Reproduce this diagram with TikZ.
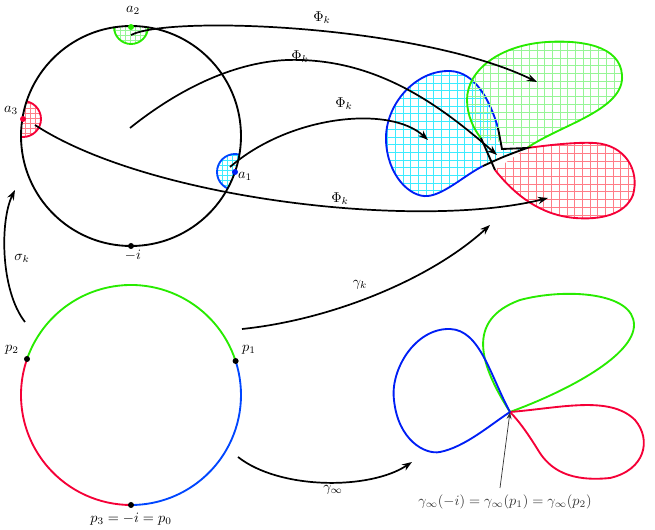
\documentclass[tikz,border=0pt]{standalone}
\usetikzlibrary{arrows.meta,calc}
\definecolor{mygreen}{RGB}{40,235,0}
\definecolor{myred}{RGB}{245,0,55}
\definecolor{myblue}{RGB}{0,30,245}
\definecolor{myblueb}{RGB}{0,70,255}
\definecolor{gridgreen}{RGB}{150,245,150}
\definecolor{gridcyan}{RGB}{60,235,255}
\definecolor{gridred}{RGB}{255,125,135}
\newcommand\mkgrid[6]{%
  \pgfmathsetmacro\mygridxb{#3+#2}%
  \foreach \gx in {#3,\mygridxb,...,#4} \draw[gridline,#1] (\gx,#5) -- (\gx,#6);
  \pgfmathsetmacro\mygridyb{#5+#2}%
  \foreach \gy in {#5,\mygridyb,...,#6} \draw[gridline,#1] (#3,\gy) -- (#4,\gy);}
\tikzset{
  thickline/.style={line width=1.3pt},
  arr/.style={line width=1.2pt,-{Stealth[length=7pt,width=5pt]}},
  thinarr/.style={line width=0.5pt,black!80,-{Stealth[length=5pt,width=3.5pt]}},
  gridline/.style={line width=0.6pt},
  dot/.style={circle,fill,inner sep=0pt,minimum size=4.2pt},
  lab/.style={inner sep=1pt},
}
\begin{document}
\begin{tikzpicture}[x=0.7pt,y=-0.7pt]
\useasboundingbox (0,0) rectangle (655,530);

% ---------- top circle with half disks ----------
\begin{scope}
  \clip (131,136) circle (110);
  \begin{scope}\clip (131,27) circle (17); \mkgrid{gridgreen}{5}{110}{155}{5}{50}\end{scope}
  \begin{scope}\clip (23,119) circle (18); \mkgrid{gridred}{5}{0}{45}{98}{140}\end{scope}
  \begin{scope}\clip (235,172) circle (18); \mkgrid{gridcyan}{5}{212}{258}{150}{195}\end{scope}
  \draw[thickline,mygreen] (131,27) circle (17);
  \draw[thickline,myred] (23,119) circle (18);
  \draw[thickline,myblueb] (235,172) circle (18);
\end{scope}
\node[draw,thickline,circle,minimum size=220*0.7pt,inner sep=0pt] (C1) at (131,136) {};
\node[dot,mygreen] (a2) at (131,27) {};
\node[dot,myred] (a3) at (23,119) {};
\node[dot,myblue] (a1) at (235,172) {};
\node[dot] (mi) at (131,246) {};
\node[lab] (la2) at (133,10) {$a_2$};
\node[lab] (la3) at (11,110) {$a_3$};
\node[lab] (la1) at (245,176) {$a_1$};
\node[lab] (lmi) at (133,255) {$-i$};

% ---------- top right blobs ----------
\coordinate (P) at (527,148);
\coordinate (Q) at (502,149);
\coordinate (R) at (498,128);
\coordinate (B1) at (483,166);
\coordinate (G1) at (481,138);
\coordinate (R1) at (495,170);
\begin{scope}
  \clip (R) .. controls (490,100) and (475,72) .. (450,71)
        .. controls (415,70) and (385,105) .. (386,140)
        .. controls (387,175) and (410,198) .. (428,196)
        .. controls (445,194) and (465,175) .. (B1)
        .. controls (505,156) .. (P) -- (Q) -- cycle;
  \mkgrid{gridcyan}{7.7}{380}{540}{60}{200}
\end{scope}
\draw[thickline,myblue] (R) .. controls (490,100) and (475,72) .. (450,71)
        .. controls (415,70) and (385,105) .. (386,140)
        .. controls (387,175) and (410,198) .. (428,196)
        .. controls (445,194) and (465,175) .. (B1);
\begin{scope}
  \clip (P) .. controls (560,125) and (625,110) .. (622,75)
        .. controls (620,45) and (580,40) .. (547,42)
        .. controls (500,45) and (467,70) .. (467,100)
        .. controls (467,115) and (474,130) .. (G1) -- cycle;
  \mkgrid{gridgreen}{7.7}{460}{630}{35}{155}
\end{scope}
\draw[thickline,mygreen] (P) .. controls (560,125) and (625,110) .. (622,75)
        .. controls (620,45) and (580,40) .. (547,42)
        .. controls (500,45) and (467,70) .. (467,100)
        .. controls (467,115) and (474,130) .. (G1);
\begin{scope}
  \clip (P) .. controls (550,145) and (575,142) .. (595,143)
        .. controls (625,145) and (640,170) .. (633,195)
        .. controls (625,215) and (600,220) .. (575,218)
        .. controls (540,215) and (515,195) .. (R1) -- cycle;
  \mkgrid{gridred}{7.7}{490}{640}{138}{225}
\end{scope}
\draw[thickline,myred] (P) .. controls (550,145) and (575,142) .. (595,143)
        .. controls (625,145) and (640,170) .. (633,195)
        .. controls (625,215) and (600,220) .. (575,218)
        .. controls (540,215) and (515,195) .. (R1);
\draw[thickline] (B1) .. controls (505,156) .. (P) -- (Q) -- (R);
\draw[thickline] (G1) -- (R1);

% ---------- Phi arrows ----------
\coordinate (s1) at (131,35);  \coordinate (e1) at (537,82);
\coordinate (s2) at (130,128); \coordinate (e2) at (497,155);
\coordinate (s3) at (230,167); \coordinate (e3) at (428,140);
\coordinate (s4) at (35,125);  \coordinate (e4) at (548,198);
\draw[arr] (s1) .. controls (170,15) and (420,25) .. (e1);
\draw[arr] (s2) .. controls (190,80) and (250,58) .. (300,60) .. controls (380,62) and (440,105) .. (e2);
\draw[arr] (s3) .. controls (290,115) and (390,105) .. (e3);
\draw[arr] (s4) .. controls (150,200) and (420,230) .. (e4);
\node[lab] (f1) at (322,18) {$\Phi_k$};
\node[lab] (f2) at (300,57) {$\Phi_k$};
\node[lab] (f3) at (344,104) {$\Phi_k$};
\node[lab] (f4) at (340,199) {$\Phi_k$};

% ---------- sigma, gamma arrows ----------
\coordinate (ss) at (25,322); \coordinate (se) at (15,190);
\draw[arr] (ss) .. controls (0,290) and (0,220) .. (se);
\node[lab] (sig) at (22,258) {$\sigma_k$};
\coordinate (gs) at (242,329); \coordinate (ge) at (490,225);
\draw[arr] (gs) .. controls (330,320) and (430,280) .. (ge);
\node[lab] (gk) at (360,285) {$\gamma_k$};
\coordinate (is) at (238,457); \coordinate (ie) at (412,462);
\draw[arr] (is) .. controls (280,490) and (370,490) .. (ie);
\node[lab] (gi) at (333,490) {$\gamma_\infty$};

% ---------- bottom circle ----------
\draw[thickline,mygreen] (131,395) ++(-18:110) arc (-18:-161:110);
\draw[thickline,myred] (131,395) ++(199:110) arc (199:90:110);
\draw[thickline,myblueb] (131,395) ++(90:110) arc (90:-18:110);
\node[dot] (p1) at ($(131,395)+(-18:110)$) {};
\node[dot] (p2) at (27,359) {};
\node[dot] (p3) at (131,505) {};
\node[lab] (lp1) at (249,350) {$p_1$};
\node[lab] (lp2) at (12,350) {$p_2$};
\node[lab] (lp3) at (131,519) {$p_3=-i=p_0$};

% ---------- clover ----------
\coordinate (C) at (510,412);
\draw[thickline,mygreen] (C) .. controls (480,365) and (465,320) .. (520,300)
   .. controls (565,288) and (634,292) .. (634,325)
   .. controls (634,355) and (570,390) .. (C);
\draw[thickline,myred] (C) .. controls (560,408) and (610,395) .. (635,420)
   .. controls (652,440) and (645,470) .. (610,478)
   .. controls (570,482) and (550,470) .. (538,450)
   .. controls (530,437) and (520,422) .. (C);
\draw[thickline,myblue] (C) .. controls (490,375) and (480,330) .. (450,329)
   .. controls (415,328) and (390,370) .. (394,400)
   .. controls (398,440) and (425,455) .. (440,452)
   .. controls (465,447) and (490,425) .. (C);
\node[lab,black!80] (lab) at (505,502) {$\gamma_\infty(-i)=\gamma_\infty(p_1)=\gamma_\infty(p_2)$};
\coordinate (ls) at (500,488);
\draw[thinarr] (ls) -- (C);
\end{tikzpicture}
\end{document}
